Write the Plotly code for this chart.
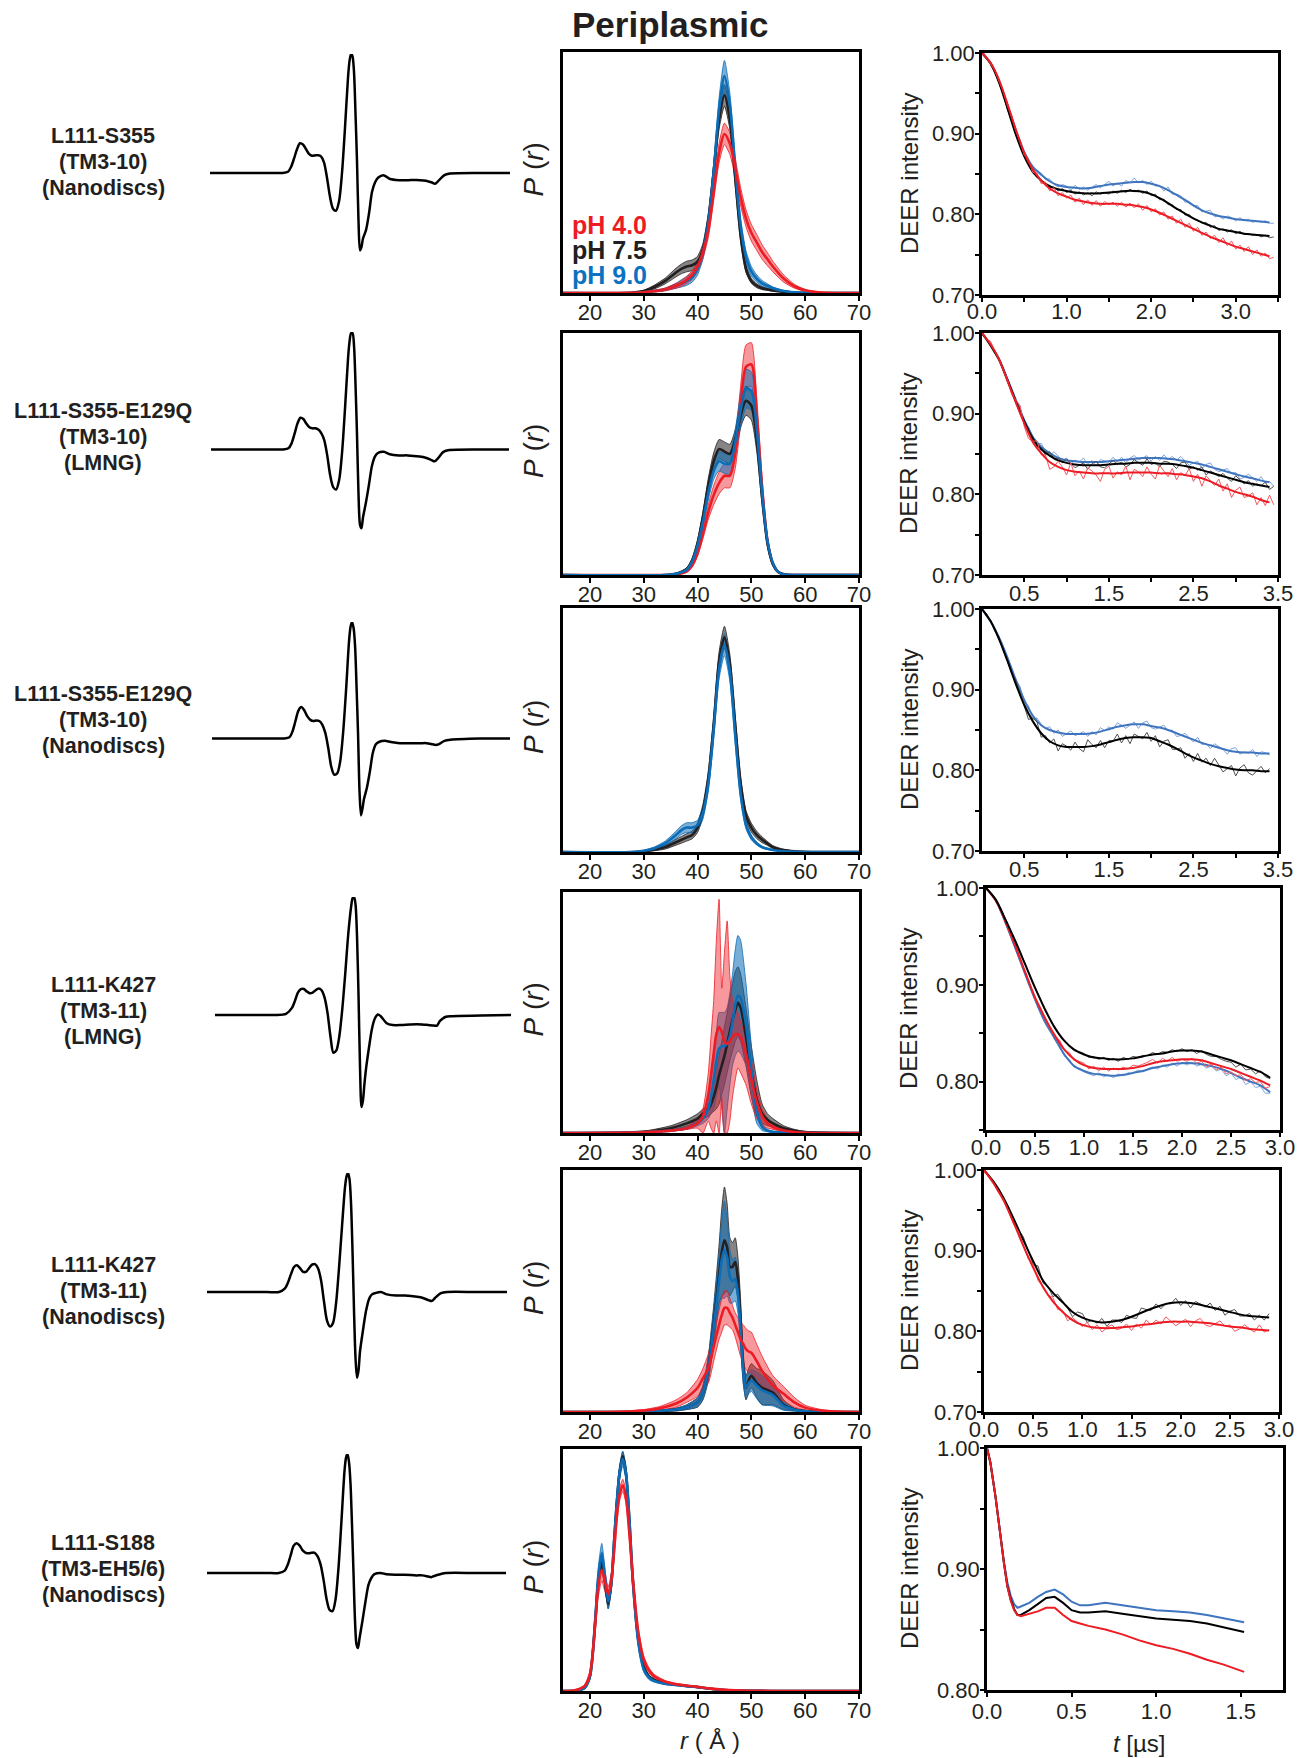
import plotly.graph_objects as go

W, H = 1299, 1758
FONT = "Liberation Sans, Arial, Helvetica, sans-serif"
INK = "#231f20"

# ---------------------------------------------------------------- labels
construct_names = [
    ["L111-S355", "(TM3-10)", "(Nanodiscs)"],
    ["L111-S355-E129Q", "(TM3-10)", "(LMNG)"],
    ["L111-S355-E129Q", "(TM3-10)", "(Nanodiscs)"],
    ["L111-K427", "(TM3-11)", "(LMNG)"],
    ["L111-K427", "(TM3-11)", "(Nanodiscs)"],
    ["L111-S188", "(TM3-EH5/6)", "(Nanodiscs)"],
]
panel_title = "Periplasmic"
ph_names = ["pH 4.0", "pH 7.5", "pH 9.0"]

# ---------------------------------------------------------------- CW-EPR spectra (field offset in G, normalised derivative)
epr_field_G = [0, 10, 20, 24, 26, 27, 28, 29, 30, 31, 32, 33, 34, 35, 36, 37, 38, 39, 40, 41,
               42, 43, 44, 45, 46, 46.5, 47, 47.5, 48, 48.5, 49, 49.5, 50, 50.5, 51, 52, 53, 54,
               55, 56, 58, 60, 63, 66, 70, 72, 74, 75, 76, 78, 80, 90, 100]
epr1 = [0, 0, 0, 0, 0.01, 0.05, 0.12, 0.20, 0.25, 0.24, 0.20, 0.16, 0.145, 0.148, 0.15, 0.14, 0.09,
        -0.04, -0.20, -0.30, -0.317, -0.24, 0.00, 0.38, 0.80, 0.94, 1.00, 0.98, 0.85, 0.50, 0.10,
        -0.40, -0.65, -0.62, -0.55, -0.48, -0.34, -0.16, -0.08, -0.04, -0.02, -0.05, -0.06, -0.06,
        -0.06, -0.065, -0.08, -0.09, -0.07, -0.02, -0.005, 0, 0]
epr2 = [0, 0, 0, 0, 0.01, 0.05, 0.13, 0.22, 0.27, 0.26, 0.22, 0.19, 0.18, 0.18, 0.17, 0.14, 0.08,
        -0.05, -0.22, -0.32, -0.34, -0.26, -0.02, 0.36, 0.78, 0.92, 0.99, 0.99, 0.88, 0.55, 0.12,
        -0.38, -0.64, -0.67, -0.58, -0.45, -0.30, -0.14, -0.06, -0.03, -0.02, -0.04, -0.05, -0.05,
        -0.06, -0.07, -0.09, -0.10, -0.08, -0.02, -0.005, 0, 0]
epr3 = [0, 0, 0, 0, 0.01, 0.06, 0.15, 0.24, 0.27, 0.24, 0.19, 0.16, 0.15, 0.155, 0.15, 0.12, 0.05,
        -0.08, -0.24, -0.31, -0.30, -0.20, 0.05, 0.42, 0.84, 0.96, 1.00, 0.95, 0.80, 0.45, 0.05,
        -0.45, -0.66, -0.60, -0.52, -0.42, -0.28, -0.12, -0.05, -0.03, -0.02, -0.03, -0.04, -0.04,
        -0.04, -0.04, -0.05, -0.055, -0.05, -0.02, -0.01, 0, 0]
epr4 = [0, 0, 0, 0.01, 0.06, 0.12, 0.19, 0.22, 0.22, 0.20, 0.185, 0.19, 0.21, 0.225, 0.21, 0.15,
        0.02, -0.18, -0.32, -0.30, -0.18, 0.05, 0.35, 0.68, 0.92, 0.99, 1.00, 0.93, 0.65, 0.15,
        -0.45, -0.78, -0.72, -0.58, -0.46, -0.28, -0.12, -0.03, 0.005, -0.01, -0.07, -0.085,
        -0.085, -0.08, -0.08, -0.085, -0.09, -0.09, -0.05, -0.015, -0.01, -0.005, 0]
epr5 = [0, 0, 0, 0, 0.03, 0.08, 0.15, 0.21, 0.225, 0.20, 0.17, 0.17, 0.20, 0.23, 0.235, 0.20, 0.10,
        -0.08, -0.24, -0.29, -0.26, -0.10, 0.20, 0.55, 0.88, 0.97, 1.00, 0.95, 0.75, 0.35, -0.15,
        -0.55, -0.72, -0.66, -0.50, -0.32, -0.16, -0.06, -0.02, -0.01, 0.0, -0.02, -0.03, -0.03,
        -0.04, -0.05, -0.07, -0.075, -0.05, -0.01, 0, 0, 0]
epr6 = [0, 0, 0, 0, 0.02, 0.07, 0.15, 0.23, 0.25, 0.23, 0.19, 0.17, 0.165, 0.17, 0.17, 0.14, 0.07,
        -0.06, -0.22, -0.31, -0.32, -0.22, 0.05, 0.45, 0.86, 0.97, 1.00, 0.93, 0.75, 0.40, 0.0,
        -0.40, -0.60, -0.63, -0.55, -0.40, -0.24, -0.10, -0.04, -0.01, 0.0, -0.01, -0.015, -0.015,
        -0.02, -0.02, -0.03, -0.035, -0.025, -0.01, 0, 0, 0]

# ---------------------------------------------------------------- distance distributions P(r)
pr1_r = [15, 28, 30, 32, 34, 36, 37, 38, 39, 40, 41, 42, 43, 44, 45, 46, 47, 48, 49, 50, 51, 52, 53,
         54, 56, 58, 60, 63, 70]
pr1_ph90 = [0, 0, 0.003, 0.008, 0.015, 0.03, 0.04, 0.05, 0.065, 0.10, 0.17, 0.29, 0.50, 0.76, 0.90,
            0.78, 0.52, 0.28, 0.15, 0.09, 0.06, 0.04, 0.03, 0.02, 0.008, 0.003, 0.001, 0, 0]
pr1_ph90_err = [0, 0, 0.001, 0.003, 0.005, 0.01, 0.015, 0.018, 0.02, 0.025, 0.03, 0.035, 0.04, 0.05,
                0.065, 0.05, 0.04, 0.03, 0.025, 0.02, 0.015, 0.012, 0.008, 0.005, 0.003, 0.001, 0, 0, 0]
pr1_ph75 = [0, 0.002, 0.008, 0.025, 0.05, 0.085, 0.10, 0.11, 0.115, 0.13, 0.18, 0.30, 0.50, 0.72,
            0.82, 0.72, 0.48, 0.24, 0.10, 0.05, 0.03, 0.02, 0.015, 0.01, 0.005, 0.002, 0.001, 0, 0]
pr1_ph75_err = [0, 0.001, 0.003, 0.008, 0.012, 0.018, 0.02, 0.022, 0.022, 0.022, 0.025, 0.03, 0.035,
                0.04, 0.045, 0.04, 0.035, 0.025, 0.015, 0.01, 0.008, 0.006, 0.004, 0.003, 0.002,
                0.001, 0, 0, 0]
pr1_ph40 = [0, 0.001, 0.003, 0.008, 0.015, 0.03, 0.04, 0.055, 0.075, 0.11, 0.17, 0.26, 0.42, 0.58,
            0.66, 0.62, 0.52, 0.40, 0.31, 0.25, 0.21, 0.17, 0.14, 0.11, 0.06, 0.028, 0.011, 0.002, 0]
pr1_ph40_err = [0, 0.001, 0.002, 0.004, 0.006, 0.01, 0.012, 0.015, 0.018, 0.02, 0.025, 0.03, 0.035,
                0.04, 0.045, 0.045, 0.04, 0.038, 0.035, 0.035, 0.033, 0.03, 0.027, 0.022, 0.015,
                0.008, 0.004, 0.001, 0]

pr2_r = [15, 34, 36, 38, 39, 40, 41, 42, 43, 44, 45, 46, 47, 48, 49, 50, 51, 52, 53, 54, 55, 56, 58, 70]
pr2_ph75 = [0, 0, 0.005, 0.025, 0.06, 0.13, 0.24, 0.37, 0.47, 0.52, 0.51, 0.50, 0.56, 0.66, 0.72,
            0.70, 0.56, 0.32, 0.13, 0.045, 0.012, 0.003, 0, 0]
pr2_ph75_err = [0, 0, 0.002, 0.005, 0.01, 0.015, 0.02, 0.03, 0.035, 0.04, 0.04, 0.04, 0.04, 0.05,
                0.06, 0.06, 0.05, 0.03, 0.015, 0.006, 0.002, 0, 0, 0]
pr2_ph90 = [0, 0, 0.005, 0.022, 0.055, 0.12, 0.22, 0.34, 0.43, 0.47, 0.46, 0.46, 0.55, 0.68, 0.77,
            0.76, 0.60, 0.34, 0.14, 0.05, 0.013, 0.003, 0, 0]
pr2_ph90_err = [0, 0, 0.002, 0.005, 0.01, 0.015, 0.02, 0.03, 0.035, 0.04, 0.04, 0.045, 0.05, 0.07,
                0.08, 0.08, 0.06, 0.035, 0.015, 0.006, 0.002, 0, 0, 0]
pr2_ph40 = [0, 0, 0.002, 0.015, 0.04, 0.09, 0.17, 0.26, 0.33, 0.38, 0.41, 0.41, 0.50, 0.70, 0.86,
            0.87, 0.66, 0.36, 0.14, 0.045, 0.012, 0.003, 0, 0]
pr2_ph40_err = [0, 0, 0.001, 0.004, 0.008, 0.012, 0.02, 0.03, 0.04, 0.045, 0.05, 0.05, 0.06, 0.08,
                0.09, 0.09, 0.07, 0.04, 0.015, 0.006, 0.002, 0, 0, 0]

pr3_r = pr1_r
pr3_ph75 = [0, 0, 0.003, 0.01, 0.02, 0.04, 0.05, 0.06, 0.07, 0.10, 0.17, 0.30, 0.52, 0.78, 0.88,
            0.77, 0.52, 0.28, 0.15, 0.10, 0.07, 0.05, 0.035, 0.02, 0.008, 0.003, 0.001, 0, 0]
pr3_ph75_err = [0, 0, 0.002, 0.005, 0.008, 0.012, 0.014, 0.015, 0.016, 0.02, 0.025, 0.03, 0.035,
                0.04, 0.045, 0.04, 0.035, 0.03, 0.02, 0.018, 0.015, 0.012, 0.008, 0.006, 0.003,
                0.001, 0, 0, 0]
pr3_ph90 = [0, 0, 0.005, 0.015, 0.035, 0.07, 0.09, 0.10, 0.10, 0.11, 0.16, 0.28, 0.50, 0.75, 0.85,
            0.74, 0.48, 0.24, 0.11, 0.06, 0.035, 0.02, 0.013, 0.008, 0.003, 0.001, 0, 0, 0]
pr3_ph90_err = [0, 0, 0.002, 0.006, 0.01, 0.015, 0.018, 0.02, 0.02, 0.02, 0.025, 0.03, 0.035, 0.04,
                0.045, 0.04, 0.035, 0.025, 0.015, 0.01, 0.006, 0.004, 0.003, 0.002, 0.001, 0, 0, 0, 0]

pr4_r = [15, 30, 35, 38, 40, 41, 42, 42.5, 43, 43.5, 44, 44.5, 45, 45.5, 46, 46.5, 47, 47.5, 48, 49,
         50, 51, 52, 53, 54, 56, 58, 60, 70]
pr4_ph75 = [0, 0.005, 0.02, 0.04, 0.06, 0.08, 0.10, 0.12, 0.15, 0.19, 0.24, 0.28, 0.32, 0.37, 0.42,
            0.47, 0.51, 0.54, 0.52, 0.40, 0.25, 0.14, 0.08, 0.055, 0.04, 0.02, 0.01, 0.004, 0]
pr4_ph75_lo = [0, 0.003, 0.012, 0.028, 0.045, 0.06, 0.07, 0.08, 0.09, 0.10, 0.12, 0.16, 0.20, 0.25,
               0.30, 0.34, 0.38, 0.40, 0.38, 0.28, 0.15, 0.07, 0.04, 0.03, 0.025, 0.012, 0.006,
               0.002, 0]
pr4_ph75_hi = [0, 0.008, 0.03, 0.055, 0.08, 0.10, 0.12, 0.15, 0.20, 0.26, 0.32, 0.38, 0.44, 0.50,
               0.56, 0.62, 0.67, 0.69, 0.66, 0.52, 0.36, 0.22, 0.12, 0.08, 0.06, 0.03, 0.015, 0.006, 0]
pr4_ph90 = [0, 0.003, 0.01, 0.02, 0.04, 0.06, 0.10, 0.15, 0.22, 0.30, 0.35, 0.36, 0.36, 0.37, 0.40,
            0.46, 0.53, 0.57, 0.56, 0.45, 0.26, 0.09, 0.025, 0.01, 0.005, 0.002, 0.001, 0, 0]
pr4_ph90_lo = [0, 0.002, 0.008, 0.015, 0.03, 0.04, 0.06, 0.08, 0.10, 0.15, 0.20, 0.10, 0.0, 0.10,
               0.20, 0.28, 0.32, 0.34, 0.33, 0.28, 0.16, 0.04, 0.01, 0.005, 0.003, 0.001, 0, 0, 0]
pr4_ph90_hi = [0, 0.004, 0.012, 0.025, 0.05, 0.08, 0.14, 0.22, 0.32, 0.42, 0.50, 0.50, 0.50, 0.52,
               0.58, 0.66, 0.76, 0.82, 0.80, 0.62, 0.36, 0.14, 0.04, 0.015, 0.007, 0.003, 0.001, 0, 0]
pr4_ph40 = [0, 0.003, 0.01, 0.02, 0.04, 0.07, 0.16, 0.24, 0.33, 0.41, 0.44, 0.42, 0.38, 0.37, 0.38,
            0.40, 0.41, 0.41, 0.40, 0.33, 0.22, 0.13, 0.07, 0.04, 0.025, 0.01, 0.004, 0.001, 0]
pr4_ph40_lo = [0, 0.002, 0.008, 0.015, 0.02, 0.0, 0.05, 0.02, 0.0, 0.05, 0.0, 0.15, 0.0, 0.0, 0.05,
               0.15, 0.22, 0.27, 0.25, 0.20, 0.12, 0.06, 0.03, 0.02, 0.015, 0.006, 0.002, 0.0, 0]
pr4_ph40_hi = [0, 0.004, 0.012, 0.025, 0.06, 0.10, 0.25, 0.40, 0.55, 0.80, 0.97, 0.60, 0.75, 0.88,
               0.65, 0.55, 0.52, 0.50, 0.46, 0.40, 0.30, 0.18, 0.10, 0.06, 0.035, 0.013, 0.005,
               0.002, 0]

pr5_r = [15, 25, 30, 33, 36, 38, 40, 41, 42, 43, 44, 44.5, 45, 45.5, 46, 46.5, 47, 47.5, 48, 48.5,
         49, 49.5, 50, 51, 52, 54, 56, 58, 60, 63, 66, 70]
pr5_ph75 = [0, 0, 0.002, 0.005, 0.01, 0.02, 0.04, 0.08, 0.18, 0.36, 0.57, 0.66, 0.71, 0.68, 0.60,
            0.60, 0.62, 0.55, 0.38, 0.18, 0.10, 0.13, 0.15, 0.12, 0.10, 0.08, 0.03, 0.01, 0.004,
            0.001, 0, 0]
pr5_ph75_err = [0, 0, 0.001, 0.003, 0.006, 0.01, 0.02, 0.03, 0.05, 0.08, 0.12, 0.18, 0.22, 0.18,
                0.12, 0.10, 0.10, 0.09, 0.08, 0.06, 0.05, 0.05, 0.05, 0.06, 0.07, 0.05, 0.02,
                0.006, 0.002, 0.001, 0, 0]
pr5_ph90 = [0, 0, 0.002, 0.005, 0.01, 0.02, 0.04, 0.08, 0.18, 0.35, 0.54, 0.63, 0.67, 0.64, 0.56,
            0.54, 0.55, 0.49, 0.34, 0.17, 0.10, 0.12, 0.13, 0.11, 0.09, 0.07, 0.025, 0.009, 0.003,
            0.001, 0, 0]
pr5_ph90_err = [0, 0, 0.001, 0.003, 0.005, 0.009, 0.018, 0.027, 0.045, 0.07, 0.11, 0.16, 0.2, 0.16,
                0.11, 0.09, 0.09, 0.08, 0.07, 0.055, 0.045, 0.045, 0.045, 0.055, 0.06, 0.045,
                0.018, 0.005, 0.002, 0.001, 0, 0]
pr5_ph40 = [0, 0.001, 0.006, 0.015, 0.035, 0.06, 0.10, 0.14, 0.18, 0.27, 0.36, 0.40, 0.43, 0.43,
            0.41, 0.39, 0.36, 0.33, 0.30, 0.28, 0.26, 0.25, 0.245, 0.21, 0.17, 0.11, 0.075, 0.04,
            0.018, 0.006, 0.002, 0]
pr5_ph40_err = [0, 0.001, 0.004, 0.008, 0.015, 0.02, 0.035, 0.04, 0.06, 0.06, 0.06, 0.07, 0.07,
                0.07, 0.06, 0.05, 0.05, 0.06, 0.07, 0.08, 0.085, 0.085, 0.085, 0.07, 0.06, 0.04,
                0.03, 0.02, 0.01, 0.004, 0.001, 0]

pr6_r = [15, 17, 18, 19, 20, 21, 21.5, 22.2, 22.8, 23.4, 24, 24.5, 25, 25.5, 26.1, 26.7, 27.3, 28,
         29, 30, 31, 32, 34, 36, 38, 40, 42, 45, 50, 55, 70]
pr6_ph75 = [0, 0.001, 0.004, 0.012, 0.06, 0.29, 0.44, 0.53, 0.45, 0.36, 0.45, 0.62, 0.78, 0.90,
            0.97, 0.90, 0.72, 0.45, 0.21, 0.10, 0.06, 0.045, 0.032, 0.026, 0.021, 0.016, 0.01,
            0.004, 0.001, 0, 0]
pr6_ph75_err = [0, 0, 0.001, 0.003, 0.006, 0.015, 0.02, 0.02, 0.02, 0.02, 0.02, 0.02, 0.02, 0.02,
                0.02, 0.02, 0.02, 0.015, 0.012, 0.008, 0.005, 0.004, 0.003, 0.002, 0.002, 0.001,
                0.001, 0, 0, 0, 0]
pr6_ph90 = [0, 0.001, 0.004, 0.012, 0.06, 0.30, 0.46, 0.57, 0.47, 0.37, 0.45, 0.62, 0.78, 0.90,
            0.96, 0.90, 0.72, 0.45, 0.20, 0.09, 0.055, 0.042, 0.03, 0.025, 0.02, 0.016, 0.01,
            0.004, 0.001, 0, 0]
pr6_ph90_err = [0, 0, 0.002, 0.004, 0.01, 0.03, 0.04, 0.04, 0.035, 0.03, 0.03, 0.03, 0.03, 0.03,
                0.03, 0.03, 0.03, 0.025, 0.02, 0.012, 0.008, 0.006, 0.004, 0.003, 0.003, 0.002,
                0.002, 0.001, 0, 0, 0]
pr6_ph40 = [0, 0.002, 0.008, 0.02, 0.07, 0.28, 0.42, 0.50, 0.45, 0.40, 0.46, 0.58, 0.72, 0.81,
            0.85, 0.80, 0.66, 0.46, 0.24, 0.13, 0.085, 0.06, 0.038, 0.028, 0.022, 0.017, 0.011,
            0.005, 0.001, 0, 0]
pr6_ph40_err = [0, 0.001, 0.003, 0.005, 0.01, 0.03, 0.04, 0.045, 0.04, 0.03, 0.03, 0.03, 0.03,
                0.025, 0.025, 0.025, 0.025, 0.02, 0.018, 0.015, 0.01, 0.008, 0.005, 0.004, 0.003,
                0.002, 0.002, 0.001, 0, 0, 0]

pr_ticks = [20, 30, 40, 50, 60, 70]

# ---------------------------------------------------------------- DEER decays
# fits sampled every 0.1 us, raw traces every 0.05 us (both from t = 0)
FIT_STEP_US = 0.1
DATA_STEP_US = 0.05

deer1_fit_ph90 = [1.000, 0.988, 0.966, 0.936, 0.904, 0.877, 0.859, 0.849, 0.841, 0.836, 0.834, 0.833,
                  0.832, 0.833, 0.835, 0.837, 0.838, 0.839, 0.840, 0.840, 0.838, 0.835, 0.830, 0.824,
                  0.818, 0.811, 0.805, 0.801, 0.798, 0.796, 0.794, 0.793, 0.792, 0.791, 0.790]
deer1_fit_ph75 = [1.000, 0.987, 0.964, 0.932, 0.899, 0.872, 0.853, 0.842, 0.835, 0.831, 0.829, 0.827,
                  0.826, 0.826, 0.826, 0.827, 0.828, 0.829, 0.829, 0.828, 0.825, 0.820, 0.814, 0.807,
                  0.801, 0.795, 0.790, 0.786, 0.782, 0.780, 0.778, 0.776, 0.775, 0.774, 0.773]
deer1_fit_ph40 = [1.000, 0.988, 0.967, 0.937, 0.905, 0.876, 0.856, 0.842, 0.832, 0.826, 0.822, 0.818,
                  0.816, 0.814, 0.813, 0.813, 0.813, 0.812, 0.811, 0.809, 0.806, 0.802, 0.797, 0.792,
                  0.787, 0.782, 0.777, 0.772, 0.768, 0.764, 0.760, 0.757, 0.754, 0.751, 0.748]
deer1_data_ph90 = [1.002, 0.994, 0.990, 0.977, 0.967, 0.949, 0.938, 0.920, 0.902, 0.893, 0.876, 0.869,
                   0.856, 0.855, 0.851, 0.843, 0.844, 0.837, 0.834, 0.837, 0.835, 0.830, 0.836, 0.831,
                   0.834, 0.830, 0.833, 0.837, 0.833, 0.837, 0.841, 0.835, 0.839, 0.835, 0.842, 0.839,
                   0.845, 0.839, 0.842, 0.837, 0.841, 0.835, 0.836, 0.829, 0.834, 0.825, 0.825, 0.823,
                   0.815, 0.816, 0.810, 0.811, 0.803, 0.804, 0.805, 0.797, 0.798, 0.794, 0.798, 0.796,
                   0.792, 0.796, 0.792, 0.794, 0.790, 0.792, 0.790, 0.792, 0.789, 0.789]
deer1_data_ph75 = [1.000, 0.995, 0.986, 0.977, 0.963, 0.949, 0.930, 0.916, 0.898, 0.886, 0.871, 0.863,
                   0.851, 0.848, 0.840, 0.839, 0.833, 0.834, 0.829, 0.832, 0.827, 0.830, 0.825, 0.828,
                   0.824, 0.827, 0.823, 0.828, 0.825, 0.827, 0.825, 0.829, 0.826, 0.830, 0.827, 0.831,
                   0.828, 0.830, 0.826, 0.829, 0.823, 0.825, 0.818, 0.819, 0.812, 0.812, 0.806, 0.806,
                   0.799, 0.800, 0.794, 0.793, 0.789, 0.790, 0.784, 0.786, 0.780, 0.782, 0.778, 0.781,
                   0.776, 0.779, 0.775, 0.776, 0.774, 0.775, 0.772, 0.774, 0.771, 0.772]
deer1_data_ph40 = [1.003, 0.996, 0.986, 0.980, 0.965, 0.954, 0.935, 0.923, 0.903, 0.892, 0.873, 0.868,
                   0.852, 0.851, 0.838, 0.840, 0.829, 0.833, 0.823, 0.827, 0.820, 0.824, 0.815, 0.820,
                   0.812, 0.818, 0.811, 0.817, 0.810, 0.816, 0.812, 0.815, 0.810, 0.815, 0.809, 0.814,
                   0.808, 0.813, 0.805, 0.811, 0.803, 0.807, 0.799, 0.803, 0.794, 0.798, 0.789, 0.794,
                   0.784, 0.789, 0.779, 0.784, 0.774, 0.778, 0.770, 0.774, 0.765, 0.771, 0.761, 0.767,
                   0.757, 0.762, 0.754, 0.760, 0.750, 0.756, 0.748, 0.752, 0.745, 0.747]

deer2_fit_ph90 = [1.000, 0.985, 0.968, 0.943, 0.917, 0.892, 0.871, 0.859, 0.851, 0.845, 0.842, 0.841,
                  0.840, 0.840, 0.840, 0.841, 0.842, 0.843, 0.844, 0.845, 0.845, 0.845, 0.844, 0.843,
                  0.841, 0.839, 0.837, 0.834, 0.831, 0.828, 0.825, 0.822, 0.820, 0.817, 0.815]
deer2_fit_ph75 = [1.000, 0.985, 0.967, 0.942, 0.915, 0.890, 0.869, 0.856, 0.848, 0.842, 0.839, 0.837,
                  0.836, 0.836, 0.836, 0.837, 0.838, 0.838, 0.839, 0.839, 0.839, 0.838, 0.838, 0.837,
                  0.835, 0.833, 0.830, 0.827, 0.824, 0.821, 0.818, 0.815, 0.813, 0.811, 0.809]
deer2_fit_ph40 = [1.000, 0.986, 0.968, 0.941, 0.914, 0.888, 0.865, 0.851, 0.840, 0.834, 0.830, 0.828,
                  0.827, 0.826, 0.826, 0.826, 0.826, 0.827, 0.827, 0.827, 0.827, 0.826, 0.826, 0.825,
                  0.824, 0.822, 0.820, 0.816, 0.811, 0.807, 0.803, 0.800, 0.797, 0.793, 0.790]
deer2_data_ph90 = [1.001, 0.994, 0.985, 0.975, 0.969, 0.958, 0.942, 0.930, 0.916, 0.909, 0.888, 0.884,
                   0.872, 0.863, 0.863, 0.854, 0.847, 0.853, 0.847, 0.842, 0.845, 0.838, 0.842, 0.840,
                   0.845, 0.837, 0.842, 0.835, 0.843, 0.841, 0.840, 0.846, 0.840, 0.846, 0.839, 0.845,
                   0.848, 0.843, 0.845, 0.848, 0.841, 0.847, 0.842, 0.849, 0.843, 0.847, 0.842, 0.847,
                   0.842, 0.836, 0.839, 0.841, 0.832, 0.837, 0.839, 0.831, 0.828, 0.830, 0.832, 0.826,
                   0.827, 0.819, 0.821, 0.825, 0.821, 0.816, 0.822, 0.814, 0.816, 0.810]
deer2_data_ph75 = [0.998, 0.994, 0.985, 0.975, 0.969, 0.954, 0.943, 0.927, 0.916, 0.906, 0.888, 0.879,
                   0.872, 0.859, 0.858, 0.849, 0.853, 0.844, 0.845, 0.839, 0.844, 0.839, 0.833, 0.836,
                   0.839, 0.831, 0.838, 0.841, 0.834, 0.833, 0.838, 0.842, 0.837, 0.840, 0.834, 0.837,
                   0.843, 0.840, 0.836, 0.844, 0.837, 0.839, 0.834, 0.841, 0.840, 0.837, 0.832, 0.839,
                   0.840, 0.831, 0.834, 0.830, 0.834, 0.824, 0.829, 0.826, 0.822, 0.826, 0.820, 0.816,
                   0.823, 0.818, 0.813, 0.817, 0.810, 0.813, 0.811, 0.815, 0.806, 0.810]
deer2_data_ph40 = [1.002, 0.992, 0.990, 0.978, 0.965, 0.955, 0.943, 0.924, 0.917, 0.910, 0.884, 0.869,
                   0.866, 0.866, 0.849, 0.849, 0.831, 0.834, 0.841, 0.834, 0.824, 0.839, 0.823, 0.829,
                   0.819, 0.833, 0.829, 0.824, 0.816, 0.831, 0.835, 0.820, 0.828, 0.824, 0.835, 0.818,
                   0.831, 0.828, 0.822, 0.834, 0.825, 0.819, 0.836, 0.829, 0.822, 0.832, 0.818, 0.827,
                   0.823, 0.832, 0.816, 0.825, 0.810, 0.823, 0.817, 0.811, 0.819, 0.804, 0.813, 0.796,
                   0.805, 0.809, 0.796, 0.798, 0.802, 0.787, 0.796, 0.786, 0.799, 0.787]

deer3_fit_ph90 = [1.000, 0.985, 0.965, 0.940, 0.912, 0.887, 0.868, 0.856, 0.850, 0.847, 0.845, 0.845,
                  0.845, 0.846, 0.848, 0.851, 0.854, 0.856, 0.857, 0.857, 0.855, 0.853, 0.850, 0.846,
                  0.842, 0.838, 0.834, 0.831, 0.828, 0.825, 0.823, 0.822, 0.822, 0.821, 0.821]
deer3_fit_ph75 = [1.000, 0.985, 0.963, 0.936, 0.907, 0.881, 0.861, 0.846, 0.836, 0.831, 0.829, 0.829,
                  0.829, 0.830, 0.832, 0.835, 0.838, 0.840, 0.841, 0.841, 0.840, 0.836, 0.832, 0.827,
                  0.821, 0.816, 0.812, 0.808, 0.805, 0.803, 0.801, 0.800, 0.800, 0.799, 0.799]
deer3_data_ph90 = [1.000, 0.991, 0.987, 0.976, 0.964, 0.954, 0.939, 0.926, 0.912, 0.904, 0.884, 0.880,
                   0.863, 0.865, 0.857, 0.852, 0.854, 0.846, 0.850, 0.842, 0.846, 0.849, 0.843, 0.845,
                   0.848, 0.842, 0.848, 0.844, 0.853, 0.849, 0.854, 0.851, 0.859, 0.856, 0.852, 0.856,
                   0.860, 0.852, 0.859, 0.861, 0.853, 0.851, 0.854, 0.856, 0.849, 0.850, 0.842, 0.843,
                   0.846, 0.841, 0.835, 0.841, 0.832, 0.833, 0.827, 0.833, 0.830, 0.826, 0.820, 0.827,
                   0.828, 0.820, 0.823, 0.821, 0.826, 0.817, 0.823, 0.822, 0.819]
deer3_data_ph75 = [0.999, 0.995, 0.986, 0.973, 0.966, 0.949, 0.936, 0.920, 0.912, 0.896, 0.879, 0.863,
                   0.865, 0.860, 0.841, 0.843, 0.834, 0.839, 0.824, 0.833, 0.830, 0.825, 0.835, 0.827,
                   0.823, 0.838, 0.832, 0.828, 0.837, 0.828, 0.837, 0.836, 0.845, 0.834, 0.843, 0.833,
                   0.845, 0.842, 0.839, 0.847, 0.836, 0.843, 0.829, 0.836, 0.838, 0.826, 0.826, 0.828,
                   0.815, 0.821, 0.811, 0.821, 0.810, 0.815, 0.806, 0.815, 0.807, 0.798, 0.802, 0.806,
                   0.793, 0.803, 0.807, 0.797, 0.794, 0.800, 0.805, 0.797, 0.802]

deer4_fit_ph75 = [1.000, 0.988, 0.967, 0.945, 0.921, 0.897, 0.875, 0.856, 0.842, 0.833, 0.828, 0.825,
                  0.824, 0.823, 0.823, 0.824, 0.826, 0.828, 0.829, 0.831, 0.832, 0.832, 0.831, 0.828,
                  0.825, 0.822, 0.818, 0.814, 0.810, 0.804]
deer4_fit_ph40 = [1.000, 0.987, 0.965, 0.940, 0.913, 0.887, 0.866, 0.848, 0.833, 0.823, 0.817, 0.814,
                  0.813, 0.813, 0.813, 0.814, 0.816, 0.819, 0.821, 0.822, 0.823, 0.823, 0.822, 0.819,
                  0.816, 0.813, 0.809, 0.805, 0.801, 0.796]
deer4_fit_ph90 = [1.000, 0.987, 0.964, 0.938, 0.911, 0.885, 0.862, 0.845, 0.828, 0.816, 0.811, 0.808,
                  0.807, 0.806, 0.807, 0.809, 0.811, 0.814, 0.816, 0.818, 0.819, 0.819, 0.818, 0.816,
                  0.813, 0.809, 0.804, 0.800, 0.796, 0.789]
deer4_data_ph75 = [1.001, 0.995, 0.987, 0.979, 0.968, 0.955, 0.944, 0.934, 0.922, 0.908, 0.896, 0.887,
                   0.874, 0.865, 0.857, 0.848, 0.843, 0.836, 0.832, 0.831, 0.829, 0.825, 0.826, 0.823,
                   0.825, 0.822, 0.824, 0.821, 0.825, 0.823, 0.826, 0.825, 0.827, 0.827, 0.830, 0.828,
                   0.831, 0.830, 0.833, 0.831, 0.834, 0.831, 0.833, 0.829, 0.832, 0.828, 0.826, 0.826,
                   0.823, 0.821, 0.820, 0.815, 0.818, 0.812, 0.813, 0.808, 0.811, 0.805, 0.803]
deer4_data_ph40 = [1.002, 0.994, 0.986, 0.978, 0.966, 0.951, 0.941, 0.925, 0.914, 0.899, 0.885, 0.878,
                   0.867, 0.855, 0.847, 0.843, 0.832, 0.830, 0.822, 0.821, 0.819, 0.813, 0.816, 0.811,
                   0.815, 0.811, 0.814, 0.812, 0.815, 0.813, 0.817, 0.816, 0.818, 0.820, 0.823, 0.819,
                   0.824, 0.821, 0.825, 0.821, 0.823, 0.821, 0.824, 0.819, 0.821, 0.815, 0.818, 0.812,
                   0.815, 0.808, 0.810, 0.806, 0.807, 0.801, 0.803, 0.799, 0.800, 0.793, 0.795]
deer4_data_ph90 = [0.999, 0.995, 0.986, 0.977, 0.963, 0.950, 0.937, 0.925, 0.910, 0.898, 0.884, 0.874,
                   0.861, 0.855, 0.843, 0.838, 0.826, 0.823, 0.815, 0.814, 0.810, 0.808, 0.806, 0.809,
                   0.805, 0.807, 0.804, 0.808, 0.806, 0.809, 0.808, 0.812, 0.810, 0.813, 0.815, 0.813,
                   0.817, 0.815, 0.819, 0.816, 0.820, 0.817, 0.820, 0.816, 0.818, 0.814, 0.816, 0.811,
                   0.813, 0.806, 0.809, 0.802, 0.805, 0.797, 0.800, 0.794, 0.795, 0.788, 0.788]

deer5_fit_ph75 = [1.000, 0.985, 0.965, 0.940, 0.913, 0.887, 0.863, 0.848, 0.836, 0.824, 0.817, 0.813,
                  0.811, 0.812, 0.814, 0.818, 0.823, 0.828, 0.832, 0.835, 0.836, 0.835, 0.833, 0.830,
                  0.827, 0.824, 0.821, 0.819, 0.818, 0.817]
deer5_fit_ph40 = [1.000, 0.983, 0.962, 0.935, 0.906, 0.879, 0.855, 0.837, 0.824, 0.814, 0.808, 0.805,
                  0.804, 0.804, 0.805, 0.806, 0.808, 0.809, 0.811, 0.812, 0.812, 0.812, 0.811, 0.810,
                  0.808, 0.806, 0.805, 0.803, 0.802, 0.801]
deer5_data_ph75 = [0.999, 0.991, 0.985, 0.977, 0.964, 0.954, 0.937, 0.926, 0.917, 0.901, 0.883, 0.881,
                   0.860, 0.856, 0.843, 0.846, 0.838, 0.829, 0.818, 0.824, 0.822, 0.811, 0.814, 0.810,
                   0.816, 0.806, 0.814, 0.814, 0.811, 0.820, 0.817, 0.816, 0.829, 0.827, 0.826, 0.834,
                   0.828, 0.835, 0.834, 0.841, 0.832, 0.838, 0.829, 0.837, 0.834, 0.830, 0.835, 0.826,
                   0.831, 0.820, 0.825, 0.827, 0.819, 0.819, 0.822, 0.814, 0.820, 0.814, 0.822]
deer5_data_ph40 = [0.997, 0.993, 0.983, 0.971, 0.964, 0.948, 0.933, 0.924, 0.908, 0.890, 0.883, 0.863,
                   0.856, 0.845, 0.842, 0.827, 0.826, 0.813, 0.817, 0.812, 0.806, 0.811, 0.802, 0.808,
                   0.799, 0.805, 0.808, 0.802, 0.804, 0.809, 0.801, 0.809, 0.804, 0.814, 0.808, 0.814,
                   0.809, 0.818, 0.813, 0.807, 0.811, 0.815, 0.806, 0.813, 0.816, 0.808, 0.806, 0.810,
                   0.813, 0.806, 0.808, 0.800, 0.803, 0.808, 0.804, 0.799, 0.808, 0.799, 0.802]

deer6_t = [0, 0.02, 0.05, 0.08, 0.10, 0.12, 0.14, 0.16, 0.18, 0.20, 0.25, 0.30, 0.35, 0.40, 0.45,
           0.50, 0.55, 0.60, 0.70, 0.80, 0.90, 1.00, 1.10, 1.20, 1.30, 1.40, 1.52]
deer6_ph90 = [1.000, 0.988, 0.960, 0.925, 0.906, 0.889, 0.878, 0.871, 0.868, 0.869, 0.872, 0.877,
              0.881, 0.883, 0.879, 0.873, 0.870, 0.870, 0.872, 0.870, 0.868, 0.866, 0.865, 0.864,
              0.862, 0.859, 0.856]
deer6_ph75 = [1.000, 0.988, 0.960, 0.924, 0.905, 0.886, 0.875, 0.867, 0.862, 0.862, 0.866, 0.871,
              0.876, 0.877, 0.872, 0.866, 0.864, 0.864, 0.865, 0.863, 0.861, 0.859, 0.858, 0.857,
              0.855, 0.852, 0.848]
deer6_ph40 = [1.000, 0.988, 0.960, 0.924, 0.905, 0.886, 0.874, 0.866, 0.862, 0.861, 0.863, 0.865,
              0.868, 0.868, 0.862, 0.857, 0.855, 0.853, 0.850, 0.846, 0.841, 0.837, 0.834, 0.830,
              0.825, 0.821, 0.815]

# ---------------------------------------------------------------- styling
RED = "#ed1c24"
BLACK = "#231f20"
BLUE = "#0b6db7"
PR_STYLE = {
    "4.0": dict(line=RED, fill="rgba(237,28,36,0.45)"),
    "7.5": dict(line=BLACK, fill="rgba(35,31,32,0.55)"),
    "9.0": dict(line=BLUE, fill="rgba(11,109,183,0.55)"),
}
DEER_STYLE = {
    "4.0": dict(fit="#ed1c24", data="#f25a5f"),
    "7.5": dict(fit="#000000", data="#505050"),
    "9.0": dict(fit="#3f74bf", data="#7ea5db"),
}
TICKFONT = dict(family=FONT, size=22, color=INK)

# pixel boxes (left, right, top, bottom) of each panel
EPR_BOX = [(210, 510, 54, 292), (211, 509, 332, 567), (212, 510, 622, 855),
           (215, 511, 897, 1133), (207, 507, 1173, 1411), (207, 506, 1454, 1692)]
PR_BOX = [(563, 859, 52, 293), (563, 859, 333, 575), (563, 859, 608, 852),
          (563, 859, 892, 1133), (563, 859, 1170, 1412), (563, 859, 1449, 1691)]
DEER_BOX = [(982, 1278, 53, 295), (982, 1278, 333, 575), (982, 1278, 609, 851),
            (986, 1280, 888, 1130), (984, 1279, 1170, 1412), (987, 1283, 1448, 1690)]
LABEL_CY = [162, 437, 720, 1011, 1291, 1569]
LABEL_LINE_PX = 26

layout = {}
annotations = []
fig = go.Figure()
_axis_n = [0]


def new_axes(box, xkw, ykw):
    _axis_n[0] += 1
    n = _axis_n[0]
    s = "" if n == 1 else str(n)
    x0, x1, y0, y1 = box
    layout["xaxis" + s] = dict(domain=[x0 / W, x1 / W], anchor="y" + s, automargin=False, **xkw)
    layout["yaxis" + s] = dict(domain=[1 - y1 / H, 1 - y0 / H], anchor="x" + s, automargin=False,
                               **ykw)
    return "x" + s, "y" + s


FRAME = dict(showline=True, linecolor="black", linewidth=2.5, mirror=True,
             showgrid=False, zeroline=False, fixedrange=True)


def text_at(text, px, py, size, color=INK, angle=0, xanchor="center"):
    annotations.append(dict(text=text, x=px / W, y=1 - py / H, xref="paper", yref="paper",
                            xanchor=xanchor, yanchor="middle", showarrow=False, textangle=angle,
                            font=dict(family=FONT, size=size, color=color)))


def add_line(xa, ya, x, y, color, width, shape="linear"):
    fig.add_trace(go.Scatter(x=x, y=y, xaxis=xa, yaxis=ya, mode="lines",
                             line=dict(color=color, width=width, shape=shape, smoothing=0.8),
                             hoverinfo="skip", showlegend=False))


def add_band(xa, ya, r, lo, hi, style):
    fig.add_trace(go.Scatter(x=list(r) + list(r)[::-1], y=list(hi) + list(lo)[::-1],
                             xaxis=xa, yaxis=ya, mode="lines", fill="toself",
                             fillcolor=style["fill"],
                             line=dict(color=style["line"], width=0.8, shape="spline", smoothing=0.6),
                             hoverinfo="skip", showlegend=False))


# ---------------------------------------------------------------- column 1: CW spectra + names
for i, spec in enumerate([epr1, epr2, epr3, epr4, epr5, epr6]):
    xa, ya = new_axes(EPR_BOX[i], dict(visible=False, range=[0, 100], fixedrange=True),
                      dict(visible=False, range=[-1, 1], fixedrange=True))
    add_line(xa, ya, epr_field_G, spec, "black", 2.5, shape="spline")
    for j, line_text in enumerate(construct_names[i]):
        text_at(f"<b>{line_text}</b>", 103, LABEL_CY[i] + (j - 1) * LABEL_LINE_PX, 21.5)

# ---------------------------------------------------------------- column 2: P(r)
def err_band(mean, err):
    return [m - e for m, e in zip(mean, err)], [m + e for m, e in zip(mean, err)]


pr_rows = [
    (pr1_r, [("7.5", pr1_ph75, *err_band(pr1_ph75, pr1_ph75_err)),
             ("9.0", pr1_ph90, *err_band(pr1_ph90, pr1_ph90_err)),
             ("4.0", pr1_ph40, *err_band(pr1_ph40, pr1_ph40_err))]),
    (pr2_r, [("4.0", pr2_ph40, *err_band(pr2_ph40, pr2_ph40_err)),
             ("7.5", pr2_ph75, *err_band(pr2_ph75, pr2_ph75_err)),
             ("9.0", pr2_ph90, *err_band(pr2_ph90, pr2_ph90_err))]),
    (pr3_r, [("7.5", pr3_ph75, *err_band(pr3_ph75, pr3_ph75_err)),
             ("9.0", pr3_ph90, *err_band(pr3_ph90, pr3_ph90_err))]),
    (pr4_r, [("7.5", pr4_ph75, pr4_ph75_lo, pr4_ph75_hi),
             ("9.0", pr4_ph90, pr4_ph90_lo, pr4_ph90_hi),
             ("4.0", pr4_ph40, pr4_ph40_lo, pr4_ph40_hi)]),
    (pr5_r, [("7.5", pr5_ph75, *err_band(pr5_ph75, pr5_ph75_err)),
             ("9.0", pr5_ph90, *err_band(pr5_ph90, pr5_ph90_err)),
             ("4.0", pr5_ph40, *err_band(pr5_ph40, pr5_ph40_err))]),
    (pr6_r, [("7.5", pr6_ph75, *err_band(pr6_ph75, pr6_ph75_err)),
             ("9.0", pr6_ph90, *err_band(pr6_ph90, pr6_ph90_err)),
             ("4.0", pr6_ph40, *err_band(pr6_ph40, pr6_ph40_err))]),
]

for i, (r, series) in enumerate(pr_rows):
    xkw = dict(range=[15, 70], tickmode="array", tickvals=pr_ticks,
               ticktext=[str(v) for v in pr_ticks], ticks="outside", ticklen=5,
               tickwidth=2, tickcolor="black", tickfont=TICKFONT, ticklabelstandoff=-7,
               layer="below traces", **FRAME)
    ykw = dict(range=[0, 1], showticklabels=False, ticks="", layer="below traces", **FRAME)
    xa, ya = new_axes(PR_BOX[i], xkw, ykw)
    for ph, mean, lo, hi in series:
        add_band(xa, ya, r, lo, hi, PR_STYLE[ph])
    for ph, mean, lo, hi in series:
        add_line(xa, ya, r, mean, PR_STYLE[ph]["line"], 2.6, shape="spline")
    x0, x1, y0, y1 = PR_BOX[i]
    text_at("<i>P</i> (<i>r</i>)", 533, (y0 + y1) / 2 - 3, 28, angle=-90)

for name, col, cy in zip(ph_names, [RED, BLACK, "#0a72c0"], [225, 250, 275]):
    text_at(f"<b>{name}</b>", 570, cy, 25, color=col, xanchor="left")

text_at("<b>" + panel_title + "</b>", 670, 25, 35)
text_at("<i>r</i> ( Å )", 710, 1740, 24)

# ---------------------------------------------------------------- column 3: DEER
def t_axis(values, step):
    return [round(step * k, 3) for k in range(len(values))]


ticks_full = [0.70, 0.75, 0.80, 0.85, 0.90, 0.95, 1.00]
ticks_075 = [0.75, 0.80, 0.85, 0.90, 0.95, 1.00]
ticks_080 = [0.80, 0.85, 0.90, 0.95, 1.00]


def ylabels(vals):
    return [f"{v:.2f}" if round(v * 100) % 10 == 0 else "" for v in vals]


x_ticks_a = [0, 0.5, 1.0, 1.5, 2.0, 2.5, 3.0, 3.5]
x_text_a = ["0.0", "", "1.0", "", "2.0", "", "3.0", ""]
x_ticks_b = [0.5, 1.0, 1.5, 2.0, 2.5, 3.0, 3.5]
x_text_b = ["0.5", "", "1.5", "", "2.5", "", "3.5"]
x_ticks_c = [0, 0.5, 1.0, 1.5, 2.0, 2.5, 3.0]
x_text_c = ["0.0", "0.5", "1.0", "1.5", "2.0", "2.5", "3.0"]
x_ticks_d = [0, 0.5, 1.0, 1.5]
x_text_d = ["0.0", "0.5", "1.0", "1.5"]

deer_rows = [
    dict(xr=[0, 3.5], xt=(x_ticks_a, x_text_a), yr=[0.70, 1.0], yt=ticks_full, xso=-9,
         traces=[("9.0", deer1_fit_ph90, deer1_data_ph90), ("7.5", deer1_fit_ph75, deer1_data_ph75),
                 ("4.0", deer1_fit_ph40, deer1_data_ph40)]),
    dict(xr=[0, 3.5], xt=(x_ticks_b, x_text_b), yr=[0.70, 1.0], yt=ticks_full, xso=-7,
         traces=[("9.0", deer2_fit_ph90, deer2_data_ph90), ("7.5", deer2_fit_ph75, deer2_data_ph75),
                 ("4.0", deer2_fit_ph40, deer2_data_ph40)]),
    dict(xr=[0, 3.5], xt=(x_ticks_b, x_text_b), yr=[0.70, 1.0], yt=ticks_full, xso=-7,
         traces=[("9.0", deer3_fit_ph90, deer3_data_ph90), ("7.5", deer3_fit_ph75, deer3_data_ph75)]),
    dict(xr=[0, 3.0], xt=(x_ticks_c, x_text_c), yr=[0.75, 1.0], yt=ticks_075, xso=-8,
         traces=[("9.0", deer4_fit_ph90, deer4_data_ph90), ("4.0", deer4_fit_ph40, deer4_data_ph40),
                 ("7.5", deer4_fit_ph75, deer4_data_ph75)]),
    dict(xr=[0, 3.0], xt=(x_ticks_c, x_text_c), yr=[0.70, 1.0], yt=ticks_full, xso=-8,
         traces=[("7.5", deer5_fit_ph75, deer5_data_ph75), ("4.0", deer5_fit_ph40, deer5_data_ph40)]),
    dict(xr=[0, 1.75], xt=(x_ticks_d, x_text_d), yr=[0.80, 1.0], yt=ticks_080, xso=-4,
         traces=[("9.0", deer6_ph90, None), ("7.5", deer6_ph75, None), ("4.0", deer6_ph40, None)]),
]

for i, row in enumerate(deer_rows):
    xkw = dict(range=row["xr"], tickmode="array", tickvals=row["xt"][0], ticktext=row["xt"][1],
               ticks="outside", ticklen=4, tickwidth=2, tickcolor="black", tickfont=TICKFONT,
               ticklabelstandoff=row["xso"], **FRAME)
    ykw = dict(range=row["yr"], tickmode="array", tickvals=row["yt"], ticktext=ylabels(row["yt"]),
               ticks="outside", ticklen=4, tickwidth=2, tickcolor="black", tickfont=TICKFONT,
               ticklabelstandoff=-4, **FRAME)
    xa, ya = new_axes(DEER_BOX[i], xkw, ykw)
    for ph, fit, data in row["traces"]:
        st = DEER_STYLE[ph]
        if data is None:
            add_line(xa, ya, deer6_t, fit, st["fit"], 2)
        else:
            add_line(xa, ya, t_axis(data, DATA_STEP_US), data, st["data"], 1)
            add_line(xa, ya, t_axis(fit, FIT_STEP_US), fit, st["fit"], 2, shape="spline")
    x0, x1, y0, y1 = DEER_BOX[i]
    text_at("DEER intensity", 909, (y0 + y1) / 2, 24, angle=-90)

text_at("<i>t</i> [µs]", 1139, 1743, 24)

fig.update_layout(width=W, height=H, autosize=False,
                  margin=dict(l=0, r=0, t=0, b=0, pad=0, autoexpand=False),
                  paper_bgcolor="white", plot_bgcolor="white", showlegend=False,
                  font=dict(family=FONT, color=INK), annotations=annotations, **layout)

# the page body gets no default margin, so the figure fills the window exactly
fig.write_html("out.html", post_script="document.body.style.margin = '0px';")
